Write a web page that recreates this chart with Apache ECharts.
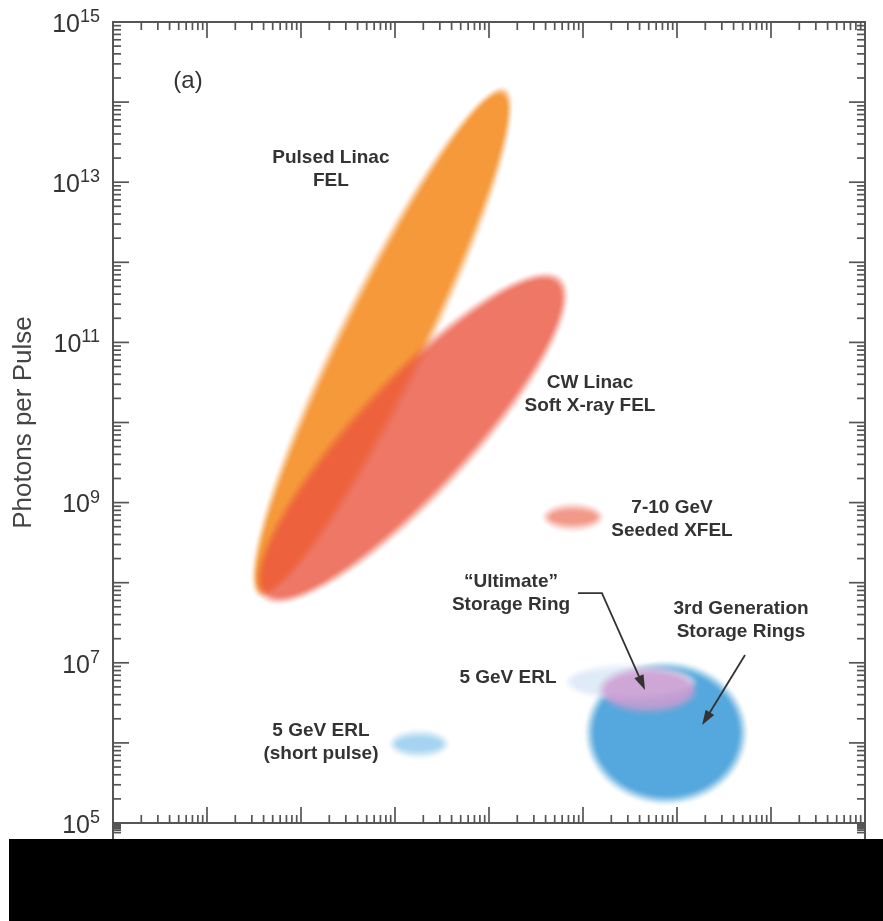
<!DOCTYPE html>
<html><head><meta charset="utf-8">
<script src="https://cdn.jsdelivr.net/npm/echarts/dist/echarts.min.js"></script>
<style>html,body{margin:0;padding:0;background:#fff}#c{width:883px;height:921px}</style>
</head><body><div id="c"></div>
<script>
// ---------------- data ----------------
// Regions: ends of the long axis (x, photons per pulse) and half-spread in decades
const regionNames  = ['Pulsed Linac FEL', 'CW Linac Soft X-ray FEL', '7-10 GeV Seeded XFEL',
                      '5 GeV ERL (short pulse)', '3rd Generation Storage Rings', '5 GeV ERL', '"Ultimate" Storage Ring'];
const regionLowX   = [3.42, 3.72, 3500, 82, 10000, 6000, 13500];
const regionLowY   = [6.4e7, 6.0e7, 6.6e8, 9.7e5, 1.33e6, 5.75e6, 4.57e6];
const regionHighX  = [1545, 6180, 17500, 395, 5.9e5, 1.76e5, 1.8e5];
const regionHighY  = [1.6e14, 6.8e11, 6.6e8, 9.7e5, 1.33e6, 5.75e6, 4.57e6];
const regionSpread = [0.6, 0.78, 0.21, 0.21, 0.92, 0.28, 0.34];

// Axis ranges and tick labels
const xMin = 1e-1, xMax = 1e7;
const yMin = 1e5, yMax = 1e15;
const xDecadeExps = [-1, 0, 1, 2, 3, 4, 5, 6, 7];
const yDecadeExps = [5, 6, 7, 8, 9, 10, 11, 12, 13, 14, 15];
const yLabelExps  = [5, 7, 9, 11, 13, 15];
const minorMultipliers = [2, 3, 4, 5, 6, 7, 8, 9];

// Annotations (anchored in data coordinates)
const labelTexts = ['Pulsed Linac\nFEL', 'CW Linac\nSoft X-ray FEL', '7-10 GeV\nSeeded XFEL',
                    '\u201cUltimate\u201d\nStorage Ring', '3rd Generation\nStorage Rings', '5 GeV ERL',
                    '5 GeV ERL\n(short pulse)', '(a)'];
const labelX = [20.8, 11860, 88500, 1714, 4.8e5, 1592, 16.3, 0.628];
const labelY = [1.44e13, 2.24e10, 6.24e8, 7.43e7, 3.37e7, 6.46e6, 1.01e6, 1.83e14];
const arrowPaths = [
  [[8850, 7.43e7], [15900, 7.43e7], [45700, 4.57e6]],
  [[5.29e5, 1.25e7], [1.85e5, 1.67e6]]
];

// ---------------- styles ----------------
const FONT = '"Liberation Sans", Arial, Helvetica, sans-serif';
const regionColors = ['rgb(246,153,58)', 'rgb(236,88,66)', 'rgb(236,88,66)', 'rgb(166,211,241)',
                      'rgb(85,168,222)', 'rgb(222,234,248)', 'rgb(210,158,212)'];
const regionAlpha  = [1, 0.8, 0.6, 1, 1, 0.9, 0.85];
const labelBold = [true, true, true, true, true, true, true, false];
const AXIS_COLOR = '#555';

const FUZZ_LAYERS = 14, FUZZ_STEP = 1.0;

function ellipsePoints(cx, cy, rx, ry, ang) {
  const ux = Math.cos(ang), uy = Math.sin(ang), nx = -uy, ny = ux;
  const pts = [];
  for (let k = 0; k < 72; k++) {
    const t = k / 72 * Math.PI * 2;
    const a = rx * Math.cos(t), b = ry * Math.sin(t);
    pts.push([cx + a * ux + b * nx, cy + a * uy + b * ny]);
  }
  return pts;
}

function renderRegion(params, api) {
  const i = params.dataIndex;
  const p1 = api.coord([api.value(0), api.value(1)]);
  const p2 = api.coord([api.value(2), api.value(3)]);
  const pxDec = Math.abs(api.coord([1, 1e6])[1] - api.coord([1, 1e7])[1]);
  const cx = (p1[0] + p2[0]) / 2, cy = (p1[1] + p2[1]) / 2;
  const a = Math.hypot(p2[0] - p1[0], p2[1] - p1[1]) / 2;
  const b = api.value(4) * pxDec;
  const ang = Math.atan2(p2[1] - p1[1], p2[0] - p1[0]);
  const A = regionAlpha[i];
  const children = [];
  let prev = 0;
  for (let k = 1; k <= FUZZ_LAYERS; k++) {
    const t = k / FUZZ_LAYERS;
    const c = A * t * t * (3 - 2 * t);
    const alpha = 1 - (1 - c) / (1 - prev);
    prev = c;
    const s = (k - 1) * FUZZ_STEP;
    children.push({
      type: 'polygon',
      shape: { points: ellipsePoints(cx, cy, Math.max(a - s, 1), Math.max(b - s, 1), ang) },
      style: { fill: regionColors[i], opacity: Math.max(0, Math.min(1, alpha)) },
      silent: true
    });
  }
  return { type: 'group', children };
}

function renderLabel(params, api) {
  const i = params.dataIndex;
  const p = api.coord([api.value(0), api.value(1)]);
  const bold = labelBold[i];
  return {
    type: 'text', x: p[0], y: p[1], silent: true,
    style: {
      text: labelTexts[i], fill: '#333',
      font: (bold ? 'bold 19px ' : '24px ') + FONT,
      align: 'center', verticalAlign: 'middle', lineHeight: 23
    }
  };
}

function renderArrow(params, api) {
  const path = arrowPaths[params.dataIndex];
  const pts = path.map(p => api.coord(p));
  const n = pts.length;
  const tip = pts[n - 1], from = pts[n - 2];
  const dx = tip[0] - from[0], dy = tip[1] - from[1];
  const len = Math.hypot(dx, dy), ux = dx / len, uy = dy / len;
  const HL = 15, HW = 5;
  const base = [tip[0] - ux * HL, tip[1] - uy * HL];
  const linePts = pts.slice(0, n - 1).concat([[tip[0] - ux * (HL - 2), tip[1] - uy * (HL - 2)]]);
  return {
    type: 'group', silent: true, children: [
      { type: 'polyline', shape: { points: linePts }, style: { stroke: '#333', lineWidth: 1.8, fill: null } },
      { type: 'polygon', shape: { points: [tip, [base[0] - uy * HW, base[1] + ux * HW], [base[0] + uy * HW, base[1] - ux * HW]] },
        style: { fill: '#333' } }
    ]
  };
}

function tickLine(x1, y1, x2, y2) {
  return { type: 'line', shape: { x1, y1, x2, y2 }, style: { stroke: AXIS_COLOR, lineWidth: 1.7 }, silent: true };
}
function renderTick(params, api) {
  const cs = params.coordSys;
  const kind = api.value(2);
  const L = (kind === 0 || kind === 2) ? 16 : 8;
  const p = api.coord([api.value(0), api.value(1)]);
  if (kind < 2) {
    const y = p[1];
    return { type: 'group', children: [tickLine(cs.x, y, cs.x + L, y), tickLine(cs.x + cs.width, y, cs.x + cs.width - L, y)] };
  }
  const x = p[0];
  return { type: 'group', children: [tickLine(x, cs.y, x, cs.y + L), tickLine(x, cs.y + cs.height, x, cs.y + cs.height - L)] };
}

// Build tick lists from the axis definitions
const tickData = [];
yDecadeExps.forEach(e => {
  tickData.push([xMin, Math.pow(10, e), 0]);
  if (e < 15) minorMultipliers.forEach(m => tickData.push([xMin, m * Math.pow(10, e), 1]));
});
xDecadeExps.forEach(e => {
  tickData.push([Math.pow(10, e), yMin, 2]);
  if (e < 7) minorMultipliers.forEach(m => tickData.push([m * Math.pow(10, e), yMin, 3]));
});
// top decade of the lower panel (mostly hidden)
const lowerTickData = minorMultipliers.map(m => [xMin, m * 1e4, 1]);

const regionData = regionNames.map((n, i) => ({ name: n, value: [regionLowX[i], regionLowY[i], regionHighX[i], regionHighY[i], regionSpread[i]] }));
const labelData = labelTexts.map((t, i) => [labelX[i], labelY[i]]);
const arrowData = arrowPaths.map(p => p[0]);

const chart = echarts.init(document.getElementById('c'), null, { renderer: 'canvas' });
chart.setOption({
  animation: false,
  backgroundColor: '#fff',
  grid: [
    { left: 113, right: 18, top: 22, bottom: 98, show: true, borderColor: AXIS_COLOR, borderWidth: 2 },
    { left: 113, right: 18, top: 823, height: 550, show: true, borderColor: AXIS_COLOR, borderWidth: 2 }
  ],
  xAxis: [
    { type: 'log', gridIndex: 0, min: xMin, max: xMax, axisLine: { show: false }, axisTick: { show: false },
      axisLabel: { show: false }, splitLine: { show: false } },
    { type: 'log', gridIndex: 1, min: xMin, max: xMax, show: false }
  ],
  yAxis: [
    { type: 'log', gridIndex: 0, min: yMin, max: yMax,
      name: 'Photons per Pulse', nameLocation: 'middle', nameGap: 76,
      nameTextStyle: { fontSize: 26, color: '#444', fontFamily: FONT },
      axisLine: { show: false }, axisTick: { show: false }, splitLine: { show: false },
      axisLabel: {
        margin: 13, padding: [6, 0, 0, 0],
        formatter: v => { const e = Math.round(Math.log10(v)); return yLabelExps.includes(e) ? '{b|10}{s|' + e + '}' : ''; },
        rich: {
          b: { fontSize: 25, fontFamily: FONT, color: '#333', lineHeight: 34 },
          s: { fontSize: 18, fontFamily: FONT, color: '#333', lineHeight: 22, verticalAlign: 'top' }
        }
      } },
    { type: 'log', gridIndex: 1, min: 1e-5, max: 1e5, show: false }
  ],
  series: [
    { type: 'custom', name: 'regions', xAxisIndex: 0, yAxisIndex: 0, renderItem: renderRegion, data: regionData, z: 2 },
    { type: 'custom', name: 'arrows', xAxisIndex: 0, yAxisIndex: 0, renderItem: renderArrow, data: arrowData, z: 4 },
    { type: 'custom', name: 'labels', xAxisIndex: 0, yAxisIndex: 0, renderItem: renderLabel, data: labelData, z: 5 },
    { type: 'custom', name: 'ticks', xAxisIndex: 0, yAxisIndex: 0, renderItem: renderTick, data: tickData, z: 6 },
    { type: 'custom', name: 'lowerTicks', xAxisIndex: 1, yAxisIndex: 1, renderItem: renderTick, data: lowerTickData, z: 6 }
  ],
  graphic: [
    { type: 'rect', shape: { x: 9, y: 839, width: 874, height: 82 }, style: { fill: '#000' }, z: 100 }
  ]
});
</script></body></html>
